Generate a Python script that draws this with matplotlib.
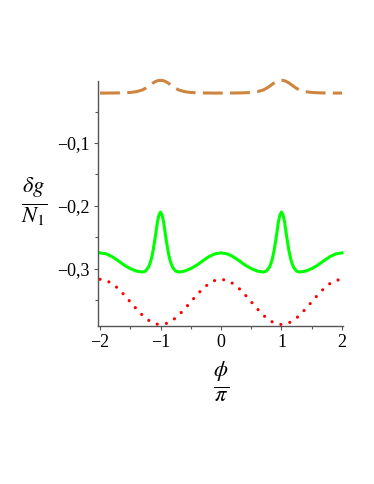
import matplotlib
matplotlib.use("Agg")
import matplotlib.pyplot as plt

plt.rcParams['mathtext.fontset'] = 'stix'
plt.rcParams['font.family'] = ['Liberation Serif', 'DejaVu Serif']

# phi / pi grid
phi = [-2.0, -1.9, -1.8, -1.7, -1.6, -1.5, -1.4, -1.3, -1.25, -1.2, -1.175, -1.15,
       -1.125, -1.1, -1.075, -1.05, -1.025, -1.0,
       -0.975, -0.95, -0.925, -0.9, -0.875, -0.85, -0.825, -0.8, -0.75, -0.7,
       -0.6, -0.5, -0.4, -0.3, -0.2, -0.1, 0.0,
       0.1, 0.2, 0.3, 0.4, 0.5, 0.6, 0.7, 0.75, 0.8, 0.825, 0.85, 0.875, 0.9,
       0.925, 0.95, 0.975, 1.0,
       1.025, 1.05, 1.075, 1.1, 1.125, 1.15, 1.175, 1.2, 1.25, 1.3, 1.4, 1.5,
       1.6, 1.7, 1.8, 1.9, 2.0]

orange = [-0.0205, -0.0205, -0.0204, -0.0203, -0.0200, -0.0195, -0.0183, -0.0155,
          -0.0130, -0.0098, -0.0080, -0.0062, -0.0045, -0.0030, -0.0018, -0.0009,
          -0.0004, -0.0002,
          -0.0004, -0.0009, -0.0018, -0.0030, -0.0045, -0.0062, -0.0080, -0.0098,
          -0.0130, -0.0155, -0.0183, -0.0195, -0.0200, -0.0203, -0.0204, -0.0205,
          -0.0205,
          -0.0205, -0.0204, -0.0203, -0.0200, -0.0195, -0.0183, -0.0155, -0.0130,
          -0.0098, -0.0080, -0.0062, -0.0045, -0.0030, -0.0018, -0.0009, -0.0004,
          -0.0002,
          -0.0004, -0.0009, -0.0018, -0.0030, -0.0045, -0.0062, -0.0080, -0.0098,
          -0.0130, -0.0155, -0.0183, -0.0195, -0.0200, -0.0203, -0.0204, -0.0205,
          -0.0205]

green = [-0.275, -0.2765, -0.281, -0.2875, -0.2945, -0.300, -0.304, -0.3055,
         -0.304, -0.298, -0.292, -0.284, -0.2725, -0.258, -0.242, -0.225,
         -0.2145, -0.210,
         -0.2145, -0.225, -0.242, -0.258, -0.2725, -0.284, -0.292, -0.298,
         -0.304, -0.3055, -0.304, -0.300, -0.2945, -0.2875, -0.281, -0.2765,
         -0.275,
         -0.2765, -0.281, -0.2875, -0.2945, -0.300, -0.304, -0.3055, -0.304,
         -0.298, -0.292, -0.284, -0.2725, -0.258, -0.242, -0.225, -0.2145,
         -0.210,
         -0.2145, -0.225, -0.242, -0.258, -0.2725, -0.284, -0.292, -0.298,
         -0.304, -0.3055, -0.304, -0.300, -0.2945, -0.2875, -0.281, -0.2765,
         -0.275]

red = [-0.317, -0.3188, -0.3239, -0.3318, -0.3419, -0.353, -0.3641, -0.3742,
       -0.3785, -0.3821, -0.3837, -0.385, -0.3862, -0.3872, -0.388, -0.3886,
       -0.3889, -0.389,
       -0.3889, -0.3886, -0.388, -0.3872, -0.3862, -0.385, -0.3837, -0.3821,
       -0.3785, -0.3742, -0.3641, -0.353, -0.3419, -0.3318, -0.3239, -0.3188,
       -0.317,
       -0.3188, -0.3239, -0.3318, -0.3419, -0.353, -0.3641, -0.3742, -0.3785,
       -0.3821, -0.3837, -0.385, -0.3862, -0.3872, -0.388, -0.3886, -0.3889,
       -0.389,
       -0.3889, -0.3886, -0.388, -0.3872, -0.3862, -0.385, -0.3837, -0.3821,
       -0.3785, -0.3742, -0.3641, -0.353, -0.3419, -0.3318, -0.3239, -0.3188,
       -0.317]

xticks = [-2, -1, 0, 1, 2]
xticklabels = ['\u22122', '\u22121', '0', '1', '2']
yticks = [-0.3, -0.2, -0.1]
yticklabels = ['\u22120,3', '\u22120,2', '\u22120,1']

fig = plt.figure(figsize=(3.74, 4.84), dpi=100)
ax = fig.add_axes([0.261, 0.327, 0.655, 0.506])

ax.plot(phi, orange, color='#CD853F', lw=2.2, linestyle=(0, (6.5, 2.4)),
        clip_on=False)
ax.plot(phi, green, color='#00FF00', lw=2.2, clip_on=False)
ax.plot(phi, red, color='#FF0000', lw=2.3, linestyle=(0, (0.01, 2.9)),
        dash_capstyle='round', clip_on=False)

ax.set_xlim(-2.04, 2.01)
ax.set_ylim(-0.391, -0.001)

ax.spines['top'].set_visible(False)
ax.spines['right'].set_visible(False)
for s in ('left', 'bottom'):
    ax.spines[s].set_linewidth(1.0)
    ax.spines[s].set_color('#555555')

ax.set_xticks(xticks)
ax.set_xticklabels(xticklabels)
ax.set_xticks([-1.5, -0.5, 0.5, 1.5], minor=True)
ax.set_yticks(yticks)
ax.set_yticklabels(yticklabels)
ax.set_yticks([-0.35, -0.25, -0.15, -0.05], minor=True)
ax.tick_params(which='major', length=3, width=0.8, color='#555555',
               labelsize=13, pad=3)
ax.tick_params(which='minor', length=2, width=0.8, color='#555555')

fig.text(34 / 374, 1 - 202 / 484, r'$\frac{\delta g}{N_{\mathit{1}}}$',
         ha='center', va='center', fontsize=23)
fig.text(221 / 374, 1 - 381 / 484, r'$\frac{\phi}{\pi}$',
         ha='center', va='center', fontsize=23)

fig.savefig('out.png', dpi=100)
